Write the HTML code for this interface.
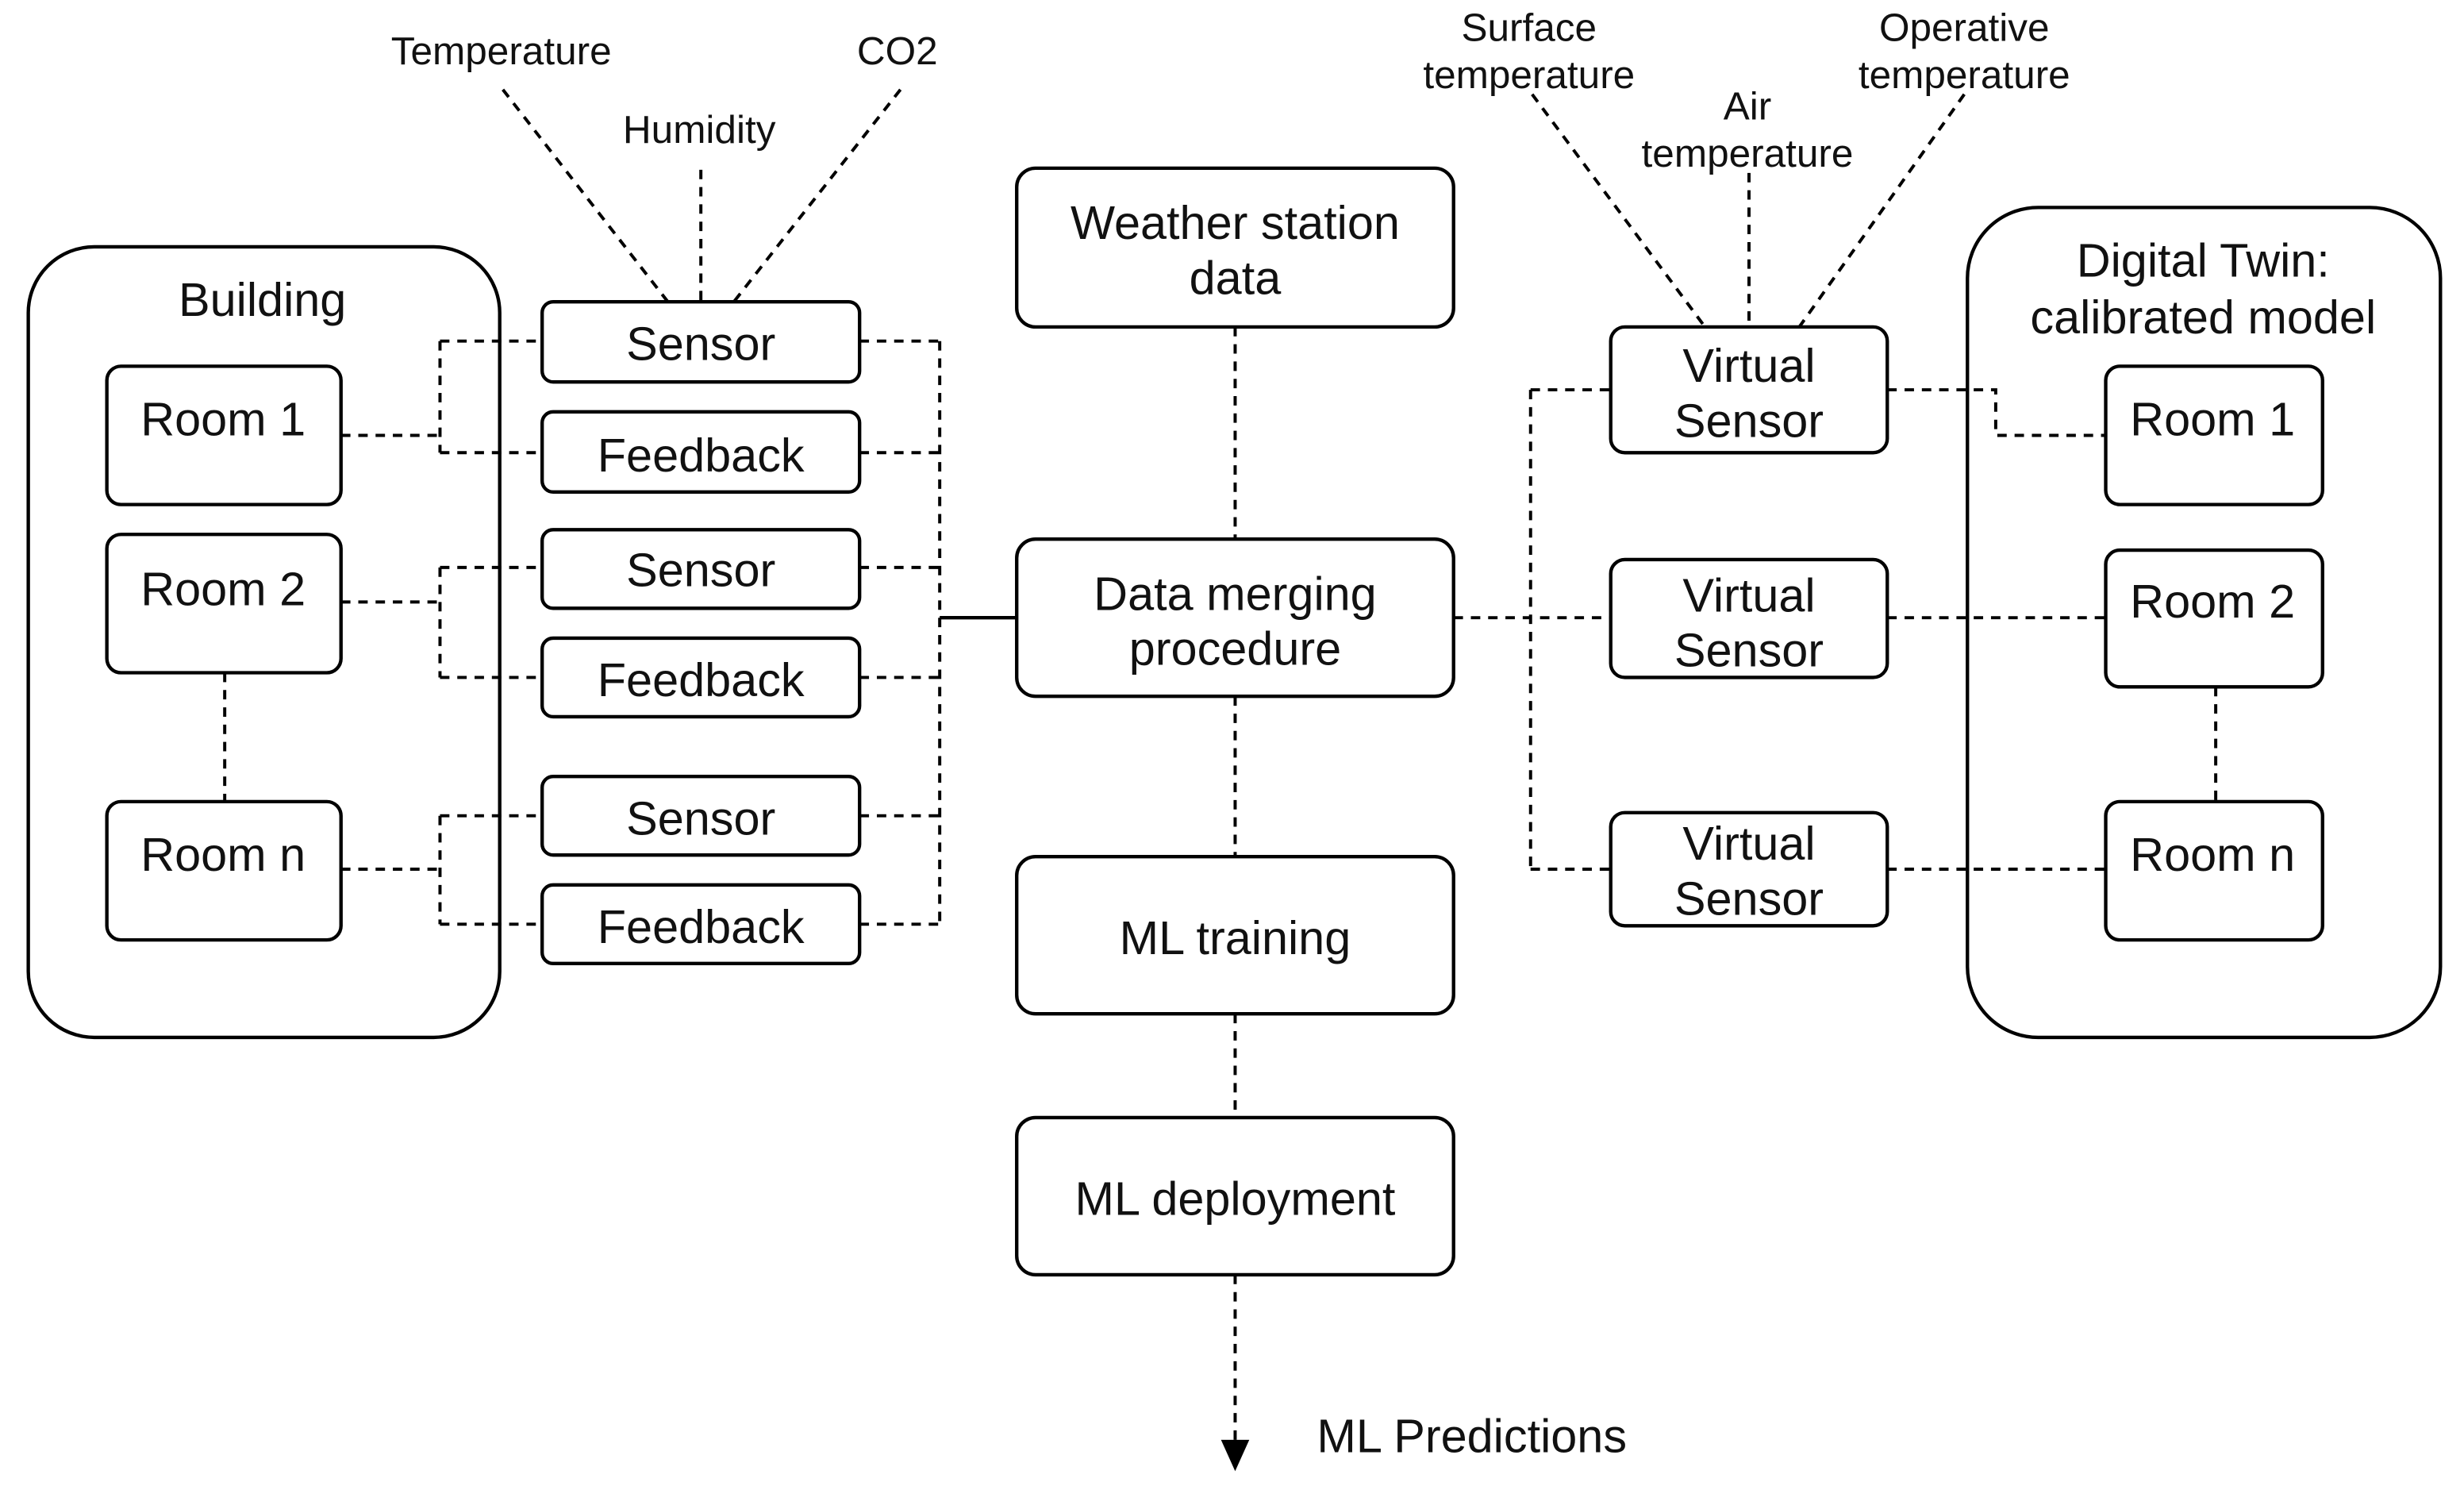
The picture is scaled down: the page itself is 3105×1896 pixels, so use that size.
<!DOCTYPE html>
<html><head><meta charset="utf-8"><style>html,body{margin:0;padding:0;background:#fff}svg{display:block}</style></head>
<body>
<svg width="3105" height="1896" viewBox="0 0 1568 957.5" preserveAspectRatio="none" xmlns="http://www.w3.org/2000/svg" font-family="Liberation Sans, sans-serif">
<g fill="none" stroke="#000" stroke-width="2.2">
<rect x="18" y="157" width="300" height="503" rx="42"/>
<rect x="68" y="233" width="149" height="88" rx="9"/>
<rect x="68" y="340" width="149" height="88" rx="9"/>
<rect x="68" y="510" width="149" height="88" rx="9"/>
<rect x="345" y="192" width="202" height="51" rx="7"/>
<rect x="345" y="262" width="202" height="51" rx="7"/>
<rect x="345" y="337" width="202" height="50" rx="7"/>
<rect x="345" y="406" width="202" height="50" rx="7"/>
<rect x="345" y="494" width="202" height="50" rx="7"/>
<rect x="345" y="563" width="202" height="50" rx="7"/>
<rect x="647" y="107" width="278" height="101" rx="12"/>
<rect x="647" y="343" width="278" height="100" rx="12"/>
<rect x="647" y="545" width="278" height="100" rx="12"/>
<rect x="647" y="711" width="278" height="100" rx="12"/>
<rect x="1025" y="208" width="176" height="80" rx="9"/>
<rect x="1025" y="356" width="176" height="75" rx="9"/>
<rect x="1025" y="517" width="176" height="72" rx="9"/>
<rect x="1252" y="132" width="301" height="528" rx="45"/>
<rect x="1340" y="233" width="138" height="88" rx="9"/>
<rect x="1340" y="350" width="138" height="87" rx="9"/>
<rect x="1340" y="510" width="138" height="88" rx="9"/>
<line x1="598" y1="393" x2="647" y2="393"/>
</g>
<g fill="none" stroke="#000" stroke-width="2" stroke-dasharray="6,5">
<line x1="143" y1="428" x2="143" y2="510"/>
<path d="M217 277H280M280 217V288M280 217H345M280 288H345"/>
<path d="M217 383H280M280 361V431M280 361H345M280 431H345"/>
<path d="M217 553H280M280 519V588M280 519H345M280 588H345"/>
<path d="M547 217H598M547 288H598M547 361H598M547 431H598M547 519H598M547 588H598M598 217V588"/>
<path d="M320 57L425 192M446 108V192M573 57L467 192"/>
<path d="M786 208V343M786 443V545M786 645V711M786 811V918"/>
<path d="M925 393H1025M974 248V553M974 248H1025M974 553H1025"/>
<path d="M1201 248H1270V277H1340M1201 393H1340M1201 553H1340M1410 437V510"/>
<path d="M975 60L1085 208M1113 110V208M1250 60L1145 208"/>
</g>
<path d="M777 916L786 936L795 916Z" fill="#000"/>
<g fill="#111" text-anchor="middle" font-size="30">
<text x="167" y="201">Building</text>
<text x="142" y="277">Room 1</text>
<text x="142" y="385">Room 2</text>
<text x="142" y="554">Room n</text>
<text x="446" y="229">Sensor</text>
<text x="446" y="300">Feedback</text>
<text x="446" y="373">Sensor</text>
<text x="446" y="443">Feedback</text>
<text x="446" y="531">Sensor</text>
<text x="446" y="600">Feedback</text>
<text x="786" y="152">Weather station</text>
<text x="786" y="187">data</text>
<text x="786" y="388">Data merging</text>
<text x="786" y="423">procedure</text>
<text x="786" y="607">ML training</text>
<text x="786" y="773">ML deployment</text>
<text x="1113" y="243">Virtual</text>
<text x="1113" y="278">Sensor</text>
<text x="1113" y="389">Virtual</text>
<text x="1113" y="424">Sensor</text>
<text x="1113" y="547">Virtual</text>
<text x="1113" y="582">Sensor</text>
<text x="1402" y="176">Digital Twin:</text>
<text x="1402" y="212">calibrated model</text>
<text x="1408" y="277">Room 1</text>
<text x="1408" y="393">Room 2</text>
<text x="1408" y="554">Room n</text>
<text x="838" y="924" text-anchor="start">ML Predictions</text>
</g>
<g fill="#111" text-anchor="middle" font-size="25">
<text x="319" y="41">Temperature</text>
<text x="445" y="91">Humidity</text>
<text x="571" y="41">CO2</text>
<text x="973" y="26">Surface</text>
<text x="973" y="56">temperature</text>
<text x="1112" y="76">Air</text>
<text x="1112" y="106">temperature</text>
<text x="1250" y="26">Operative</text>
<text x="1250" y="56">temperature</text>
</g>
</svg>
</body></html>
